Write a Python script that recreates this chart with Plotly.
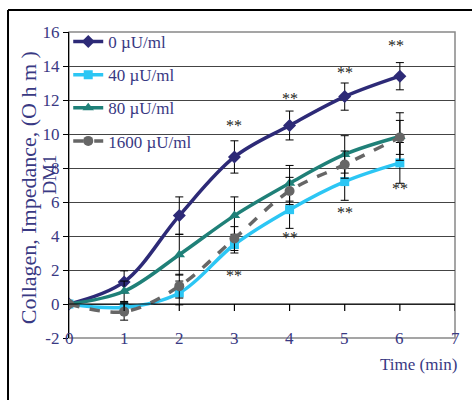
import plotly.graph_objects as go

# ---- data ----
time_min = [0, 1, 2, 3, 4, 5, 6]
labels = ["0 µU/ml", "40 µU/ml", "80 µU/ml", "1600 µU/ml"]
v0 = [0.0, 1.3, 5.2, 8.65, 10.5, 12.2, 13.4]
e0 = [0.0, 0.65, 1.1, 0.95, 0.85, 0.8, 0.8]
v40 = [0.0, -0.2, 0.65, 3.5, 5.55, 7.2, 8.3]
e40 = [0.0, 0.3, 0.7, 0.5, 1.1, 1.1, 1.2]
v80 = [0.0, 0.75, 2.9, 5.2, 7.1, 8.8, 9.85]
e80 = [0.0, 0.6, 1.2, 1.1, 1.05, 1.1, 1.4]
v1600 = [0.0, -0.45, 1.05, 3.85, 6.65, 8.2, 9.8]
e1600 = [0.0, 0.5, 0.7, 0.7, 0.8, 0.8, 1.0]

star_top_x = [3, 4, 5, 5.93]
star_top_y = [10.5, 12.1, 13.6, 15.2]
star_bot_x = [3, 4, 5, 6]
star_bot_y = [1.65, 3.9, 5.4, 6.8]

x_ticks = [0, 1, 2, 3, 4, 5, 6, 7]
y_ticks = [-2, 0, 2, 4, 6, 8, 10, 12, 14, 16]
y_tick_text = ["-2", "0", "2", "4", "6", "8", "10", "12", "14", "16"]

NAVY_TXT = "#393983"
FONT = "'Liberation Serif', 'Times New Roman', Times, serif"

series = [
    (labels[0], v0, e0, "#2D2A77", "diamond", 10, "solid"),
    (labels[1], v40, e40, "#2CC6F4", "square", 9, "solid"),
    (labels[2], v80, e80, "#1F8078", "triangle-up", 10, "solid"),
    (labels[3], v1600, e1600, "#666666", "circle", 10, "dash"),
]

fig = go.Figure()
for i, (name, vals, errs, col, sym, msz, dash) in enumerate(series):
    fig.add_trace(go.Scatter(
        x=time_min, y=vals, name=name, mode="lines+markers",
        line=dict(color=col, width=3.5, shape="spline", dash=dash),
        marker=dict(symbol=sym, size=msz, color=col),
        error_y=dict(type="data", array=errs, visible=True, color="black",
                     thickness=1, width=4),
        legendgroup=f"g{i}",
    ))

annotations = []
for x, y in zip(star_top_x + star_bot_x, star_top_y + star_bot_y):
    annotations.append(dict(x=x, y=y, xref="x", yref="y", text="**", showarrow=False,
                            font=dict(family=FONT, size=16, color="#222222"),
                            yanchor="middle"))
for t in x_ticks:
    annotations.append(dict(x=t, y=-2, xref="x", yref="y", text=str(t), showarrow=False,
                            font=dict(family=FONT, size=17, color=NAVY_TXT),
                            yanchor="middle", xanchor="center"))
annotations.append(dict(x=1.01, y=-0.088, xref="paper", yref="paper", text="Time (min)",
                        showarrow=False, xanchor="right", yanchor="middle",
                        font=dict(family=FONT, size=17, color=NAVY_TXT)))
annotations.append(dict(x=-0.106, y=0.49, xref="paper", yref="paper",
                        text="Collagen, Impedance, (O h m )", textangle=-90,
                        showarrow=False, xanchor="center", yanchor="middle",
                        font=dict(family=FONT, size=22, color=NAVY_TXT)))
annotations.append(dict(x=-0.05, y=0.533, xref="paper", yref="paper",
                        text="DM1", textangle=-90,
                        showarrow=False, xanchor="center", yanchor="middle",
                        font=dict(family=FONT, size=19, color=NAVY_TXT)))

shapes = [
    dict(type="rect", xref="paper", yref="paper", x0=0, x1=1, y0=0, y1=1,
         line=dict(color="#888888", width=1.5), layer="below"),
    dict(type="line", xref="x", yref="y", x0=0, x1=7, y0=0, y1=0,
         line=dict(color="black", width=1.2)),
    dict(type="line", xref="paper", yref="paper", x0=-0.158, x1=-0.158, y0=-0.25, y1=1.072,
         line=dict(color="black", width=2)),
    dict(type="line", xref="paper", yref="paper", x0=-0.158, x1=1.1, y0=1.072, y1=1.072,
         line=dict(color="black", width=2)),
]
for t in x_ticks[1:]:
    shapes.append(dict(type="line", xref="x", yref="y", ysizemode="pixel", yanchor=0,
                       x0=t, x1=t, y0=0, y1=-7, line=dict(color="black", width=1.2)))

fig.update_layout(
    width=472, height=400,
    margin=dict(l=69, r=16.5, t=32, b=62),
    paper_bgcolor="white", plot_bgcolor="white",
    showlegend=True,
    legend=dict(x=-0.002, y=1.026, xanchor="left", yanchor="top",
                bgcolor="rgba(0,0,0,0)", font=dict(family=FONT, size=17, color=NAVY_TXT),
                tracegroupgap=8),
    xaxis=dict(range=[0, 7], showgrid=False, zeroline=False, showline=False,
               showticklabels=False, ticks=""),
    yaxis=dict(range=[-2, 16], tickvals=y_ticks, ticktext=y_tick_text, showgrid=True,
               gridcolor="#444444", gridwidth=1, zeroline=False, showline=True,
               linecolor="black", linewidth=1.2, ticks="outside", ticklen=5,
               tickcolor="black", tickfont=dict(family=FONT, size=17, color=NAVY_TXT)),
    annotations=annotations,
    shapes=shapes,
)

fig.write_html("out.html")
